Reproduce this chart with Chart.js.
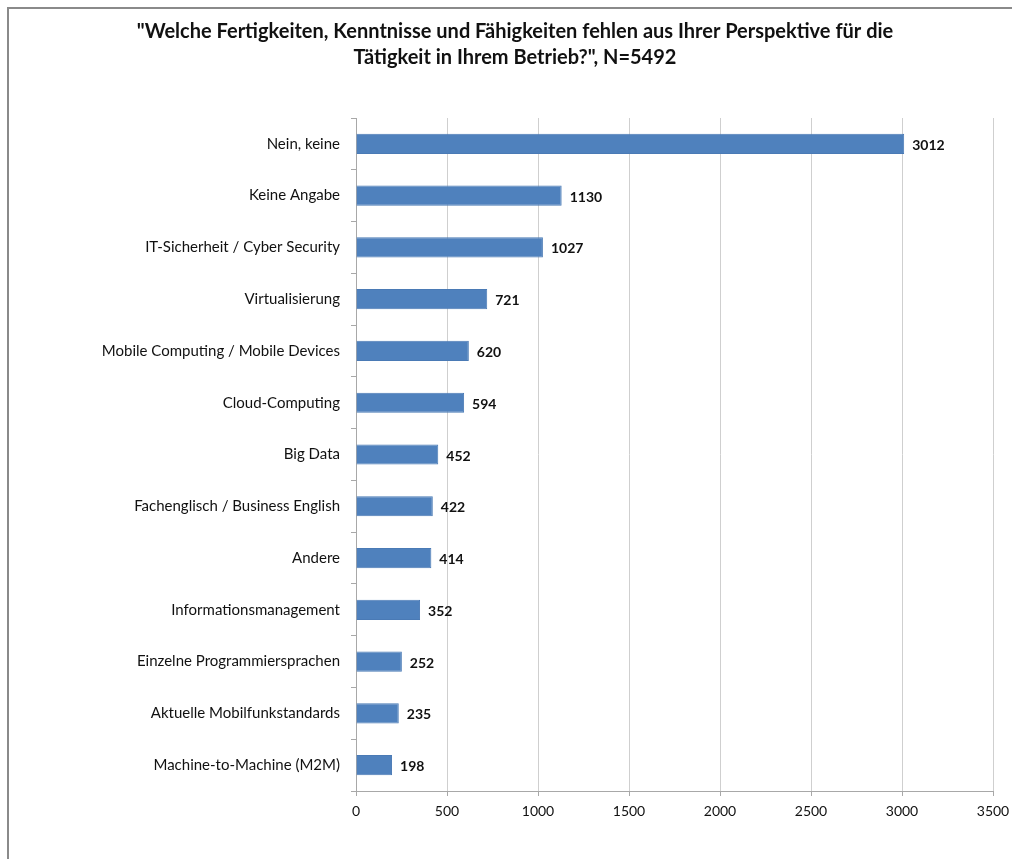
<!DOCTYPE html>
<html>
<head>
<meta charset="utf-8">
<script src="https://cdn.jsdelivr.net/npm/chart.js@4"></script>
<style>
html,body{margin:0;padding:0;background:#fff;width:1012px;height:859px;overflow:hidden;}
#frame{position:absolute;left:7px;top:7px;width:1100px;height:900px;border-left:2px solid #8a8a8a;border-top:2px solid #8a8a8a;}
#wrap{position:absolute;left:0;top:0;width:1012px;height:859px;}
</style>
</head>
<body>
<div id="frame"></div>
<div id="wrap"><canvas id="c" width="1012" height="859"></canvas></div>
<script>
const titleLines = ['"Welche Fertigkeiten, Kenntnisse und Fähigkeiten fehlen aus Ihrer Perspektive für die', 'Tätigkeit in Ihrem Betrieb?", N=5492'];
const categories = ['Nein, keine','Keine Angabe','IT-Sicherheit / Cyber Security','Virtualisierung','Mobile Computing / Mobile Devices','Cloud-Computing','Big Data','Fachenglisch / Business English','Andere','Informationsmanagement','Einzelne Programmiersprachen','Aktuelle Mobilfunkstandards','Machine-to-Machine (M2M)'];
const values = [3012,1130,1027,721,620,594,452,422,414,352,252,235,198];
const xTicks = [0,500,1000,1500,2000,2500,3000,3500];

const FONT = 'Lato, "Open Sans", sans-serif';

const valueLabels = {
  id:'valueLabels',
  afterDatasetsDraw(chart){
    const ctx = chart.ctx;
    const meta = chart.getDatasetMeta(0);
    ctx.save();
    ctx.font = 'bold 14px ' + FONT;
    ctx.fillStyle = '#111';
    ctx.textAlign = 'left';
    ctx.textBaseline = 'middle';
    meta.data.forEach((bar,i)=>{
      ctx.fillText(String(values[i]), bar.x + 8, bar.y + 1.5);
    });
    ctx.restore();
  }
};

new Chart(document.getElementById('c'), {
  type:'bar',
  data:{
    labels:categories,
    datasets:[{
      data:values,
      backgroundColor:'#4F81BD',
      borderColor:'#4A7AB5',
      borderWidth:1,
      barPercentage:0.39,
      categoryPercentage:1.0
    }]
  },
  options:{
    indexAxis:'y',
    responsive:false,
    animation:false,
    devicePixelRatio:1,
    layout:{padding:{left:18,right:0,top:0,bottom:0}},
    plugins:{
      legend:{display:false},
      tooltip:{enabled:false},
      title:{
        display:true,
        text:titleLines,
        color:'#111',
        font:{family:FONT,size:20,weight:'bold',lineHeight:1.3},
        padding:{top:19,bottom:47}
      }
    },
    scales:{
      x:{
        min:0,max:3500,
        afterBuildTicks(scale){ scale.ticks = xTicks.map(v=>({value:v})); },
        afterFit(scale){ scale.height = 68; scale.paddingRight = 19; },
        grid:{color:'#CFCFCF',lineWidth:1,drawTicks:true,tickLength:5,tickColor:'#A8A8A8'},
        border:{display:true,color:'#A8A8A8',width:1},
        ticks:{color:'#111',font:{family:FONT,size:14},padding:7,maxRotation:0,callback:(v)=>String(v)}
      },
      y:{
        afterFit(scale){ scale.width = 338; },
        grid:{drawOnChartArea:false,drawTicks:true,tickLength:5,offset:true,color:'#A8A8A8'},
        border:{display:true,color:'#A8A8A8',width:1},
        ticks:{color:'#111',font:{family:FONT,size:15},padding:11,autoSkip:false}
      }
    }
  },
  plugins:[valueLabels]
});
</script>
</body>
</html>
